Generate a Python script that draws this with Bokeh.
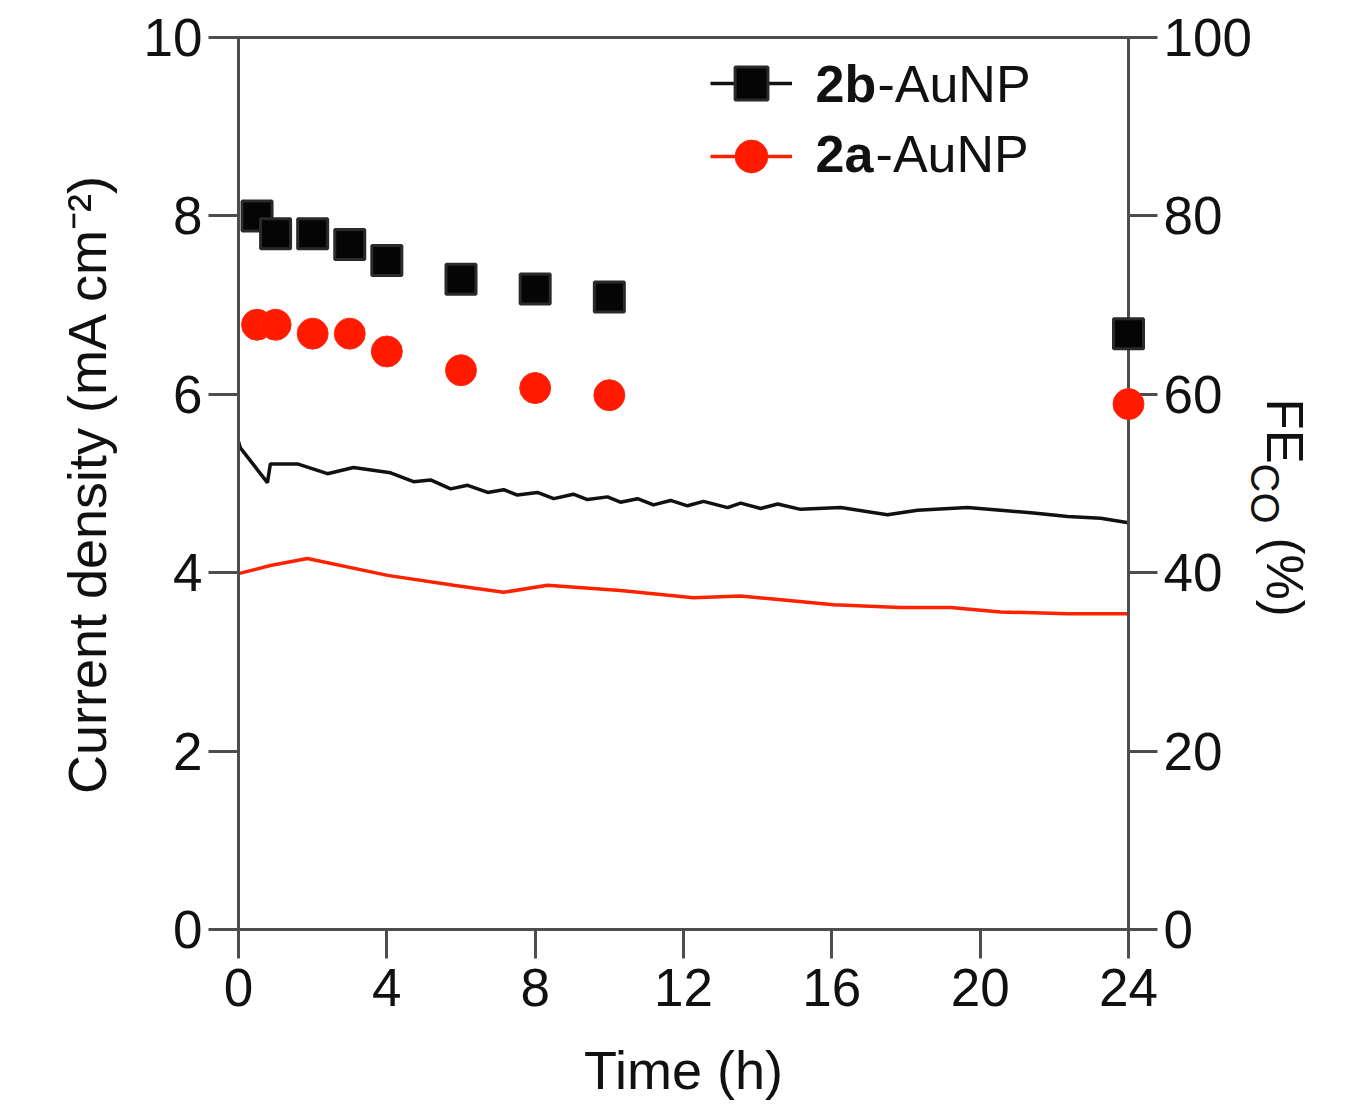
import math
from bokeh.plotting import figure
from bokeh.models import Range1d, LinearAxis, FixedTicker, Label, Legend, LegendItem
from bokeh.embed import file_html
from bokeh.resources import INLINE
from bokeh.core.properties import value

# ---- data ----
# current density traces (left axis, mA cm^-2)
t_cd_2b = [0, 0.05, 0.78, 0.86, 1.59, 2.40, 3.10, 4.10, 4.72, 5.18, 5.72, 6.18, 6.72,
           7.15, 7.52, 8.06, 8.50, 9.03, 9.41, 9.95, 10.30, 10.76, 11.19, 11.65, 12.11,
           12.54, 13.19, 13.54, 14.08, 14.54, 15.16, 16.24, 17.50, 18.31, 19.66, 20.55,
           21.44, 22.36, 23.25, 24.0]
cd_2b = [5.47, 5.40, 5.01, 5.22, 5.22, 5.11, 5.18, 5.12, 5.02, 5.04, 4.94, 4.98, 4.90,
         4.93, 4.87, 4.90, 4.83, 4.88, 4.82, 4.85, 4.79, 4.83, 4.76, 4.81, 4.75,
         4.80, 4.73, 4.78, 4.72, 4.77, 4.71, 4.73, 4.65, 4.70, 4.73, 4.70,
         4.67, 4.63, 4.61, 4.56]
t_cd_2a = [0, 0.86, 1.86, 4.02, 5.80, 7.15, 8.33, 10.30, 12.27, 13.54, 14.27, 16.05,
           17.85, 19.2, 20.55, 22.36, 24.0]
cd_2a = [3.99, 4.08, 4.16, 3.97, 3.86, 3.78, 3.86, 3.80, 3.72, 3.74, 3.71, 3.64,
         3.61, 3.61, 3.56, 3.54, 3.54]

# Faradaic efficiency for CO (right axis, %)
t_fe = [0.5, 1, 2, 3, 4, 6, 8, 10, 24]
fe_2b = [80.0, 78.0, 78.0, 76.8, 75.0, 72.9, 71.8, 70.9, 66.8]
fe_2a = [67.8, 67.8, 66.8, 66.8, 64.8, 62.7, 60.7, 59.9, 58.9]

x_ticks = [0, 4, 8, 12, 16, 20, 24]
y_ticks = [0, 2, 4, 6, 8, 10]
fe_ticks = [0, 20, 40, 60, 80, 100]

FONT = "Liberation Sans"
AXC = "#4d4d4d"
TXT = "#111111"
BLACK = "#111111"
RED = "#ff2200"

p = figure(frame_width=890, frame_height=892,
           x_range=Range1d(0, 24), y_range=Range1d(0, 10),
           output_backend="svg", toolbar_location=None,
           min_border_left=238, min_border_top=37,
           min_border_right=216, min_border_bottom=0)
p.extra_y_ranges = {"fe": Range1d(0, 100)}
p.grid.visible = False
p.outline_line_color = AXC
p.outline_line_width = 3
p.background_fill_color = "white"
p.border_fill_color = "white"


def style_axis(ax, tick_out, standoff):
    ax.axis_line_color = AXC
    ax.axis_line_width = 3
    ax.major_tick_line_color = AXC
    ax.major_tick_line_width = 3
    ax.major_tick_in = 0
    ax.major_tick_out = tick_out
    ax.minor_tick_line_color = None
    ax.major_label_text_font = FONT
    ax.major_label_text_font_size = "53px"
    ax.major_label_text_color = TXT
    ax.major_label_standoff = standoff
    ax.axis_label_text_font = FONT
    ax.axis_label_text_font_size = "54px"
    ax.axis_label_text_font_style = "normal"
    ax.axis_label_text_color = TXT


xax = p.xaxis[0]
xax.ticker = FixedTicker(ticks=x_ticks)
style_axis(xax, 29, 10)
xax.axis_label = "Time (h)"
xax.axis_label_standoff = 31

yax = p.yaxis[0]
yax.ticker = FixedTicker(ticks=y_ticks)
style_axis(yax, 30, 6)
yax.axis_label = "Current density (mA cm\u207b\u00b2)"
yax.axis_label_standoff = 24

rax = LinearAxis(y_range_name="fe", ticker=FixedTicker(ticks=fe_ticks))
style_axis(rax, 29, 6)
p.add_layout(rax, "right")

# ---- data glyphs ----
r_l2b = p.line(t_cd_2b, cd_2b, line_color=BLACK, line_width=3.5)
r_l2a = p.line(t_cd_2a, cd_2a, line_color=RED, line_width=3.5)
r_s2b = p.scatter(t_fe, fe_2b, y_range_name="fe", marker="square", size=30,
                  fill_color="#050505", line_color="#2a2a2a", line_width=3,
                  level="overlay")
r_s2a = p.scatter(t_fe, fe_2a, y_range_name="fe", marker="circle", size=31,
                  fill_color="#ff1a00", line_color="#ff2a10", line_width=1,
                  level="overlay")

# ---- legend (glyphs via Legend, rich labels via Label) ----
for rends, loc in (([r_l2b, r_s2b], (472, 805)), ([r_l2a, r_s2a], (472, 732))):
    leg = Legend(items=[LegendItem(label=" ", renderers=rends)], location=loc,
                 glyph_width=82, glyph_height=82, padding=0, margin=0, spacing=0,
                 label_standoff=0, label_text_font_size="8px",
                 border_line_alpha=0, background_fill_alpha=0)
    p.add_layout(leg)

lab_kw = dict(text_font=FONT, text_font_size="52px", text_color=TXT,
              text_baseline="alphabetic", text_align="left")
p.add_layout(Label(x=15.56, y=9.479, text="2b", text_font_style="bold", **lab_kw))
p.add_layout(Label(x=17.23, y=9.479, text="-AuNP", **lab_kw))
p.add_layout(Label(x=15.56, y=8.694, text="2a", text_font_style="bold", **lab_kw))
p.add_layout(Label(x=17.18, y=8.694, text="-AuNP", **lab_kw))

# ---- right axis title: FE_CO (%) reading top to bottom ----
title_parts = ["FE", "CO", "(%)"]
title_x = [28.22, 27.69, 28.22]
title_y = [5.953, 5.224, 4.395]
title_sizes = ["51px", "40px", "51px"]
for txt, tx, ty, fs in zip(title_parts, title_x, title_y, title_sizes):
    p.text(x=[tx], y=[ty], text=[txt], angle=-math.pi / 2,
           text_font=value(FONT), text_font_size=value(fs), text_color=TXT,
           text_baseline="alphabetic", text_align="left", level="overlay")

open("out.html", "w").write(file_html(p, INLINE))
